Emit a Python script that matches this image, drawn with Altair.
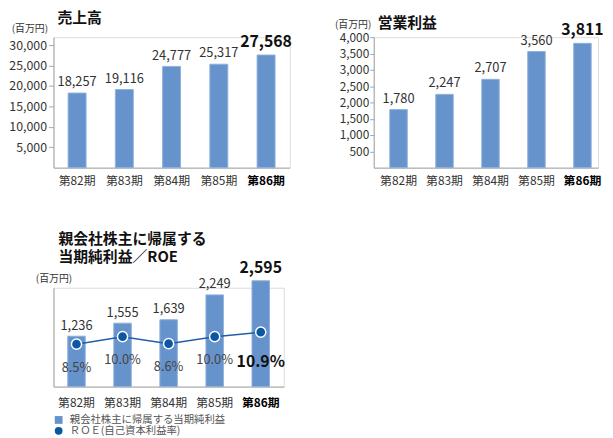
import altair as alt
import pandas as pd

# ---- data ----
periods = ["第82期", "第83期", "第84期", "第85期", "第86期"]
sales = [18257, 19116, 24777, 25317, 27568]
op_income = [1780, 2247, 2707, 3560, 3811]
net_income = [1236, 1555, 1639, 2249, 2595]
roe = [8.5, 10.0, 8.6, 10.0, 10.9]
sales_ticks = [5000, 10000, 15000, 20000, 25000, 30000]
op_ticks = [500, 1000, 1500, 2000, 2500, 3000, 3500, 4000]
legend_labels = ["親会社株主に帰属する当期純利益", "ＲＯＥ(自己資本利益率)"]
titles = ["売上高", "営業利益", ["親会社株主に帰属する", "当期純利益／ROE"]]
unit = "(百万円)"

FONT = "Noto Sans CJK JP"
BAR = "#6693cc"
BAR_EDGE = "#8fb1dd"
PT = "#0b57a4"
LINE = "#1f5fab"
AXIS = "#a6a6a6"
TXT = "#333333"
last = periods[-1]

df = pd.DataFrame({"period": periods, "sales": sales, "op": op_income,
                   "net": net_income, "roe": roe})


def x_enc(po=0.31, align=0.5, lpad=8):
    return alt.X("period:N", sort=periods,
                 scale=alt.Scale(paddingInner=0.62, paddingOuter=po, align=align),
                 axis=alt.Axis(title=None, labelAngle=0, ticks=False, tickSize=0,
                               domainColor=AXIS, labelFontSize=12, labelPadding=lpad,
                               labelFont=FONT,
                               labelColor={"expr": f"datum.value == '{last}' ? '#000000' : '{TXT}'"},
                               labelFontWeight={"expr": f"datum.value == '{last}' ? 'bold' : 'normal'"}))


def bar_panel(field, dmax, ticks, title, tx, ty, lsize, tick_size, lpad, width,
              toff, po, align):
    base = alt.Chart(df).encode(
        x=x_enc(po, align),
        y=alt.Y(f"{field}:Q", scale=alt.Scale(domain=[0, dmax], nice=False),
                axis=alt.Axis(values=ticks, format=",d", grid=False,
                              title=unit, titleAngle=0, titleX=tx, titleY=ty,
                              titleAlign="right", titleBaseline="middle",
                              titleFontSize=10, titleFontWeight="normal",
                              titleColor=TXT, titleFont=FONT,
                              tickSize=tick_size, tickColor=AXIS, domainColor=AXIS,
                              labelFontSize=lsize, labelColor=TXT, labelPadding=lpad,
                              labelFont=FONT)),
    )
    bars = base.mark_bar(color=BAR, stroke=BAR_EDGE, strokeWidth=1)
    labels = base.mark_text(baseline="middle", dy=-11, fontSize=13, color=TXT,
                            font=FONT).encode(
        text=alt.Text(f"{field}:Q", format=",")
    ).transform_filter(f"datum.period != '{last}'")
    bold = base.mark_text(baseline="middle", dy=-13, fontSize=16, fontWeight="bold",
                          color="#111111", font=FONT).encode(
        text=alt.Text(f"{field}:Q", format=",")
    ).transform_filter(f"datum.period == '{last}'")
    return alt.layer(bars, labels, bold).properties(
        width=width, height=132,
        title=alt.Title(title, anchor="start", frame="group", dx=4,
                        fontSize=15, fontWeight="bold", font=FONT, color="#111111",
                        offset=toff))


c1 = bar_panel("sales", 31935, sales_ticks, titles[0], -6, -9, 12.5, 5, 2, 239, -3,
               0.31, 0.5)
c2 = bar_panel("op", 4000, op_ticks, titles[1], -3, -13, 12, 4, 1, 227, -12,
               0.25, 0.7)

# ---- third panel ----
base3 = alt.Chart(df).encode(x=x_enc(lpad=11))
ybar = alt.Y("net:Q", scale=alt.Scale(domain=[0, 2424], nice=False),
             axis=alt.Axis(labels=False, ticks=False, grid=False, domainColor=AXIS,
                           title=unit, titleAngle=0, titleX=0, titleY=-9,
                           titleAlign="center", titleBaseline="middle",
                           titleFontSize=10, titleFontWeight="normal",
                           titleColor=TXT, titleFont=FONT))
color_scale = alt.Scale(domain=legend_labels, range=[BAR, PT])
legend = alt.Legend(title=None, orient="none", legendX=0, legendY=382,
                    direction="vertical", labelFont=FONT, labelFontSize=10.5,
                    labelColor="#555555", symbolSize=62, rowPadding=-2,
                    labelOffset=6, symbolStrokeWidth=0)

bars3 = base3.mark_bar(stroke=BAR_EDGE, strokeWidth=1).transform_calculate(
    series=f"'{legend_labels[0]}'"
).encode(y=ybar, color=alt.Color("series:N", scale=color_scale, legend=legend))
lab3 = base3.mark_text(baseline="middle", dy=-10.5, fontSize=13, color=TXT, font=FONT).encode(
    y=ybar, text=alt.Text("net:Q", format=",")).transform_filter(f"datum.period != '{last}'")
bold3 = base3.mark_text(baseline="middle", dy=-13, fontSize=16, fontWeight="bold",
                        color="#111111", font=FONT).encode(
    y=ybar, text=alt.Text("net:Q", format=",")).transform_filter(f"datum.period == '{last}'")
bar_layer = alt.layer(bars3, lab3, bold3)

yroe = alt.Y("roe:Q", scale=alt.Scale(domain=[0, 19.8], nice=False), axis=None)
line = base3.mark_line(color=LINE, strokeWidth=1.5).encode(y=yroe)
pts = base3.mark_point(filled=True, opacity=1, size=105, stroke="white",
                       strokeWidth=1.5).transform_calculate(
    series=f"'{legend_labels[1]}'"
).encode(y=yroe,
         color=alt.Color("series:N", scale=color_scale, legend=legend),
         shape=alt.Shape("series:N", scale=alt.Scale(domain=legend_labels,
                                                     range=["square", "circle"]),
                         legend=legend))
roe_lab = base3.mark_text(baseline="middle", dy=24, fontSize=13, color="#444444",
                          font=FONT).transform_calculate(
    t="format(datum.roe, '.1f') + '%'"
).encode(y=yroe, text="t:N").transform_filter(f"datum.period != '{last}'")
roe_bold = base3.mark_text(baseline="middle", dy=30, fontSize=16, fontWeight="bold",
                           color="#111111", font=FONT).transform_calculate(
    t="format(datum.roe, '.1f') + '%'"
).encode(y=yroe, text="t:N").transform_filter(f"datum.period == '{last}'")
roe_layer = alt.layer(line, pts, roe_lab, roe_bold)

c3 = alt.layer(bar_layer, roe_layer).resolve_scale(y="independent").properties(
    width=233, height=100,
    title=alt.Title(titles[2], anchor="start", frame="group", dx=5,
                    fontSize=15, fontWeight="bold", font=FONT, color="#111111",
                    lineHeight=19, offset=-5.5))

chart = alt.vconcat(
    alt.hconcat(c1, c2, spacing=41),
    c3, spacing=43.5
).properties(
    padding={"left": 0, "top": 0, "right": 0, "bottom": 0}
).configure_view(stroke=None).configure(font=FONT)

chart.save("out.html", embed_options={"renderer": "svg", "actions": False})
